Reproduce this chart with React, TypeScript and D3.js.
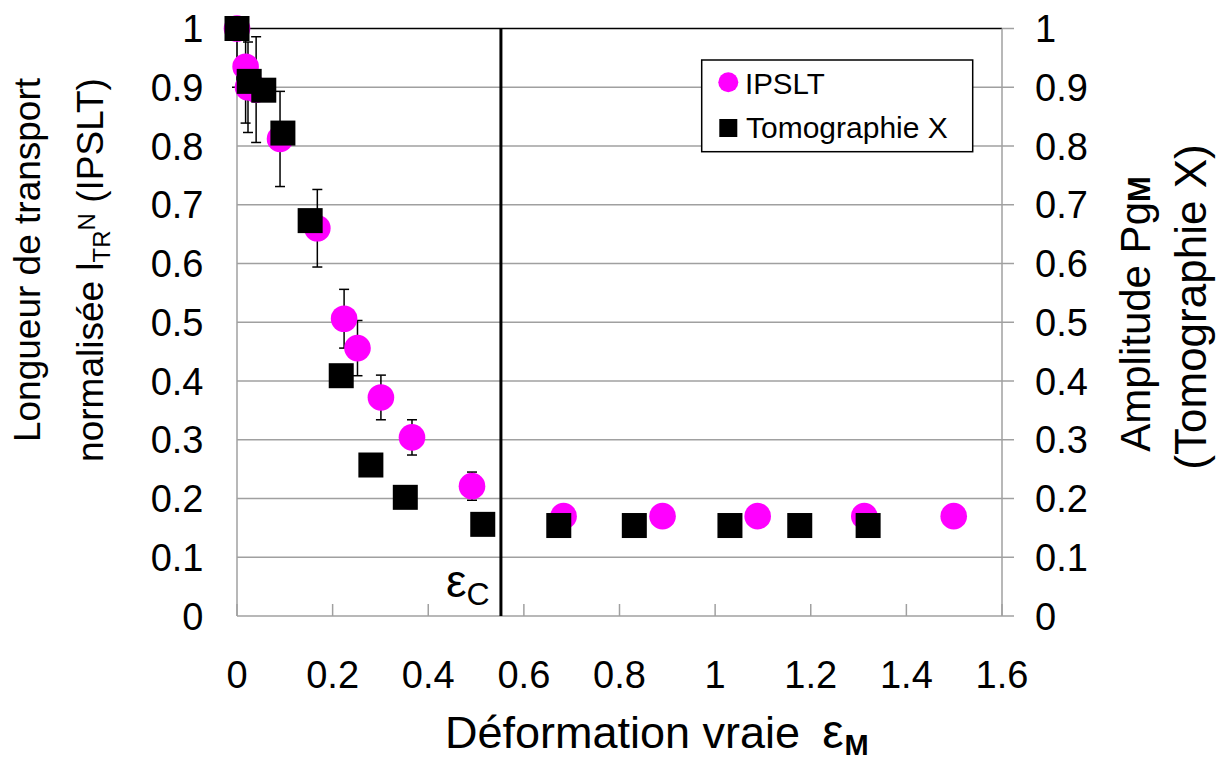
import React from "react";
import * as d3 from "d3";

// ---- data ----
const ipsltX = [0, 0.018, 0.023, 0.04, 0.09, 0.168, 0.224, 0.252, 0.301, 0.366, 0.4915, 0.683, 0.89, 1.089, 1.312, 1.499];
const ipsltY = [1.0, 0.935, 0.9, 0.896, 0.812, 0.66, 0.506, 0.456, 0.372, 0.304, 0.221, 0.17, 0.17, 0.17, 0.17, 0.17];
const ipsltErr = [0.1, 0.096, 0.077, 0.09, 0.081, 0.066, 0.05, 0.047, 0.038, 0.03, 0.024, 0, 0, 0, 0, 0];

const tomoX = [0, 0.0255, 0.056, 0.096, 0.153, 0.218, 0.28, 0.352, 0.514, 0.673, 0.831, 1.031, 1.177, 1.32];
const tomoY = [1.0, 0.91, 0.895, 0.822, 0.673, 0.409, 0.257, 0.202, 0.156, 0.154, 0.154, 0.154, 0.154, 0.154];

const xTicks = [0, 0.2, 0.4, 0.6, 0.8, 1, 1.2, 1.4, 1.6];
const yTicks = [0, 0.1, 0.2, 0.3, 0.4, 0.5, 0.6, 0.7, 0.8, 0.9, 1];
const epsC = 0.552;

const seriesNames = ["IPSLT", "Tomographie X"];

const FONT = "'Liberation Sans', Arial, sans-serif";
const MAGENTA = "#ff00ff";
const GRID = "#a0a0a0";

export default function App() {
  const x = d3.scaleLinear().domain([0, 1.6]).range([237, 1002]);
  const y = d3.scaleLinear().domain([0, 1]).range([616, 28.5]);
  const [x0, x1] = x.range();
  const [y0, y1] = y.range();
  const clampY = (v: number) => Math.max(y1, Math.min(y0, v));
  const fmt = d3.format("~g");

  const ipslt = ipsltX.map((v, i) => ({ x: v, y: ipsltY[i], e: ipsltErr[i] }));
  const tomo = tomoX.map((v, i) => ({ x: v, y: tomoY[i] }));

  return (
    <svg
      width={1224}
      height={760}
      style={{ position: "absolute", left: 0, top: 0, background: "#fff" }}
      fontFamily={FONT}
    >
      <rect x={0} y={0} width={1224} height={760} fill="#fff" />
      {/* gridlines */}
      {yTicks.filter((t) => t > 0 && t < 1).map((t) => (
        <line key={"g" + t} x1={x0} x2={x1} y1={y(t)} y2={y(t)} stroke={GRID} strokeWidth={1.5} />
      ))}
      {/* top line */}
      <line x1={x0} x2={x1} y1={y(1)} y2={y(1)} stroke="#000" strokeWidth={1.5} />
      {/* axes */}
      <line x1={x0} x2={x0} y1={y1} y2={y0} stroke={GRID} strokeWidth={1.5} />
      <line x1={x1} x2={x1} y1={y1} y2={y0} stroke={GRID} strokeWidth={1.5} />
      <line x1={x0} x2={x1} y1={y0} y2={y0} stroke={GRID} strokeWidth={1.5} />
      {xTicks.map((t) => (
        <line key={"xt" + t} x1={x(t)} x2={x(t)} y1={y0} y2={y0 - 12} stroke={GRID} strokeWidth={1.5} />
      ))}
      {yTicks.map((t) => (
        <line key={"yt" + t} x1={x1} x2={x1 + 12} y1={y(t)} y2={y(t)} stroke={GRID} strokeWidth={1.5} />
      ))}

      {/* tick labels */}
      {xTicks.map((t) => (
        <text key={"xl" + t} x={x(t)} y={688} fontSize={38} textAnchor="middle" fill="#000">
          {fmt(t)}
        </text>
      ))}
      {yTicks.map((t) => (
        <text key={"yl" + t} x={203.5} y={y(t) + 13.6} fontSize={38} textAnchor="end" fill="#000">
          {fmt(t)}
        </text>
      ))}
      {yTicks.map((t) => (
        <text key={"yr" + t} x={1035} y={y(t) + 13.6} fontSize={38} textAnchor="start" fill="#000">
          {fmt(t)}
        </text>
      ))}

      {/* eps_c line */}
      <line x1={x(epsC)} x2={x(epsC)} y1={y1} y2={y0} stroke="#000" strokeWidth={3} />
      <text x={446} y={597} fontSize={46} fill="#000">
        ε<tspan fontSize={32} dy={8}>C</tspan>
      </text>

      {/* error bars */}
      {ipslt.filter((d) => d.e > 0).map((d, i) => {
        const cx = x(d.x);
        const top = clampY(y(d.y + d.e));
        const bot = clampY(y(d.y - d.e));
        return (
          <g key={"e" + i} stroke="#000" strokeWidth={1.5}>
            <line x1={cx} x2={cx} y1={top} y2={bot} />
            {y(d.y + d.e) >= y1 && <line x1={cx - 5} x2={cx + 5} y1={top} y2={top} />}
            <line x1={cx - 5} x2={cx + 5} y1={bot} y2={bot} />
          </g>
        );
      })}

      {/* IPSLT circles */}
      {ipslt.map((d, i) => (
        <circle key={"c" + i} cx={x(d.x)} cy={y(d.y)} r={13.3} fill={MAGENTA} />
      ))}
      {/* Tomographie squares */}
      {tomo.map((d, i) => (
        <rect key={"s" + i} x={x(d.x) - 12.5} y={y(d.y) - 12.5} width={25} height={25} fill="#000" />
      ))}

      {/* legend */}
      <rect x={701.7} y={60} width={271} height={91.7} fill="#fff" stroke="#000" strokeWidth={1.5} />
      <circle cx={728.3} cy={82.3} r={10} fill={MAGENTA} />
      <rect x={719.3} y={119} width={18} height={18} fill="#000" />
      <text x={745} y={94.3} fontSize={29.5} fill="#000">{seriesNames[0]}</text>
      <text x={746} y={138.3} fontSize={30} fill="#000">{seriesNames[1]}</text>

      {/* x axis title */}
      <text x={445} y={748} fontSize={45} fill="#000">
        Déformation vraie<tspan dx={22} fontSize={48}>ε</tspan>
        <tspan fontSize={29} fontWeight="bold" dy={7} dx={1}>M</tspan>
      </text>

      {/* left y title */}
      <g transform="translate(40,260) rotate(-90)">
        <text x={0} y={0} fontSize={37} textAnchor="middle" fill="#000">
          Longueur de transport
        </text>
      </g>
      <g transform="translate(103,270) rotate(-90)">
        <text x={0} y={0} fontSize={37} textAnchor="middle" fill="#000">
          normalisée l<tspan fontSize={24} dy={7}>TR</tspan>
          <tspan fontSize={24} dy={-15}>N</tspan>
          <tspan dy={8}> (IPSLT)</tspan>
        </text>
      </g>

      {/* right y title */}
      <g transform="translate(1150,314) rotate(-90)">
        <text x={0} y={0} fontSize={42} textAnchor="middle" fill="#000">
          Amplitude Pg<tspan fontSize={31} fontWeight="bold">M</tspan>
        </text>
      </g>
      <g transform="translate(1206,307) rotate(-90)">
        <text x={0} y={0} fontSize={44} textAnchor="middle" fill="#000">
          (Tomographie X)
        </text>
      </g>
    </svg>
  );
}
